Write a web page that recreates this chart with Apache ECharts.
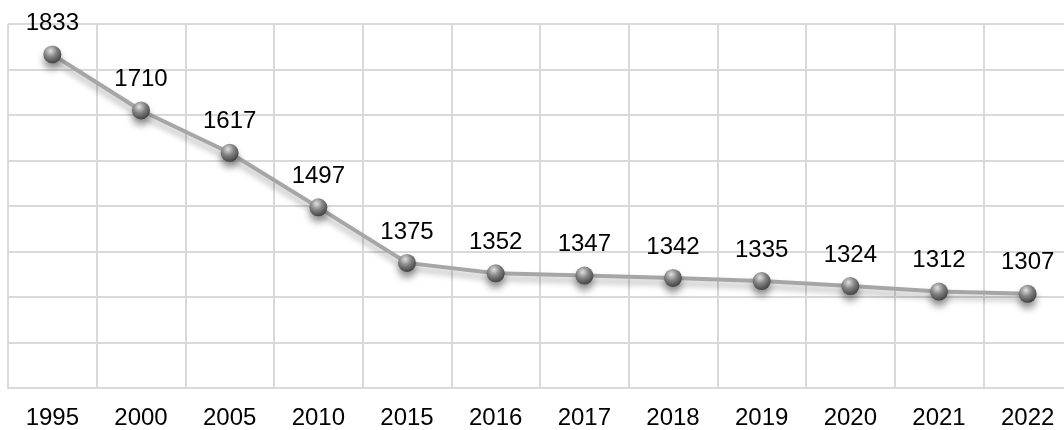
<!DOCTYPE html>
<html>
<head>
<meta charset="utf-8">
<script src="https://cdn.jsdelivr.net/npm/echarts@6/dist/echarts.min.js"></script>
<style>html,body{margin:0;padding:0;background:#fff;overflow:hidden}#c{width:1072px;height:430px}</style>
</head>
<body>
<div id="c"></div>
<script>
var categories = ['1995','2000','2005','2010','2015','2016','2017','2018','2019','2020','2021','2022'];
var values = [1833,1710,1617,1497,1375,1352,1347,1342,1335,1324,1312,1307];

var chart = echarts.init(document.getElementById('c'), null, {renderer:'canvas'});
chart.setOption({
  animation: false,
  backgroundColor: '#ffffff',
  grid: {left: 8, top: 24, right: 0, bottom: 40, containLabel: false},
  xAxis: {
    type: 'category',
    data: categories,
    boundaryGap: true,
    axisLine: {show: true, lineStyle: {color: '#d9d9d9', width: 2}},
    axisTick: {show: false},
    axisLabel: {color: '#000', fontSize: 24, fontFamily: 'Liberation Sans, Arial, sans-serif', margin: 18},
    splitLine: {show: true, lineStyle: {color: '#d9d9d9', width: 2}}
  },
  yAxis: {
    type: 'value',
    min: 1100, max: 1900, interval: 100,
    axisLine: {show: false},
    axisTick: {show: false},
    axisLabel: {show: false},
    splitLine: {show: true, lineStyle: {color: '#d9d9d9', width: 2}}
  },
  series: [{
    type: 'line',
    data: values,
    symbol: 'circle',
    symbolSize: 18,
    lineStyle: {color: '#a6a6a6', width: 4, shadowColor: 'rgba(0,0,0,0.3)', shadowBlur: 6, shadowOffsetY: 5},
    itemStyle: {
      color: {type: 'radial', x: 0.4, y: 0.3, r: 0.75, colorStops: [
        {offset: 0, color: '#e0e0e0'},
        {offset: 0.45, color: '#858585'},
        {offset: 1, color: '#3a3a3a'}
      ]},
      borderWidth: 0,
      shadowColor: 'rgba(0,0,0,0.4)', shadowBlur: 7, shadowOffsetY: 6
    },
    label: {show: true, position: 'top', distance: 10, color: '#000', fontSize: 24, fontFamily: 'Liberation Sans, Arial, sans-serif'}
  }]
});
</script>
</body>
</html>
